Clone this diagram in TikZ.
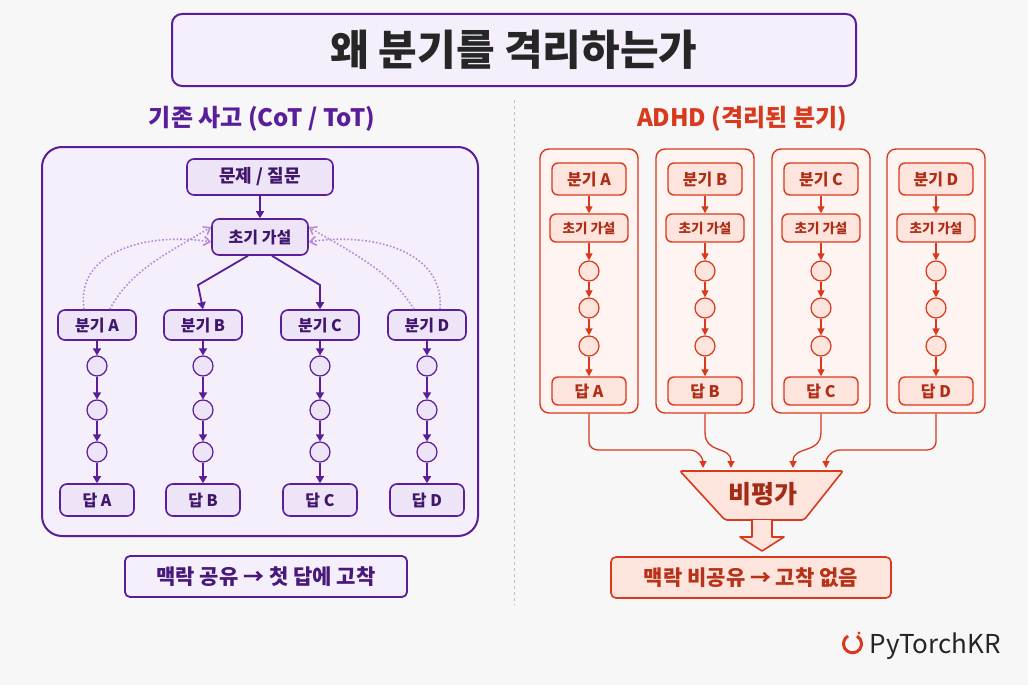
\documentclass[tikz,border=0pt]{standalone}
\usepackage{fontspec}
\setmainfont{Noto Sans CJK KR}
\usetikzlibrary{arrows.meta,calc}
\definecolor{pp}{HTML}{5B1E9A}
\definecolor{ppf}{HTML}{EEE4F8}
\definecolor{ppb}{HTML}{F4EFFA}
\definecolor{pl}{HTML}{B48AD8}
\definecolor{rd}{HTML}{D93A1E}
\definecolor{rdf}{HTML}{FDE4DC}
\definecolor{rdb}{HTML}{FEF4F1}
\definecolor{bg}{HTML}{F7F7F7}
\tikzset{
 pbox/.style={draw=pp,fill=ppf,line width=1.6pt,rounded corners=7pt,text=pp!70!black,font=\fontsize{16}{18}\selectfont\bfseries,inner sep=0pt},
 rbox/.style={draw=rd,fill=rdf,line width=1.4pt,rounded corners=6pt,text=rd!80!black,font=\fontsize{15}{17}\selectfont\bfseries,inner sep=0pt},
 pc/.style={circle,draw=pp,fill=ppf,line width=1.2pt,minimum size=20pt,inner sep=0pt},
 rc/.style={circle,draw=rd,fill=rdf,line width=1.2pt,minimum size=20pt,inner sep=0pt},
 parr/.style={draw=pp,line width=1.6pt,-{Triangle[length=7pt,width=8pt]}},
 rarr/.style={draw=rd,line width=1.3pt,-{Triangle[length=7pt,width=7pt]}},
 dotarr/.style={draw=pl,line width=1.6pt,dotted,-{Straight Barb[length=6pt,width=9pt]}},
}
\begin{document}
\begin{tikzpicture}[x=1pt,y=-1pt]
\fill[bg] (0,0) rectangle (1028,685);
\useasboundingbox (0,0) rectangle (1028,685);
% title
\node[draw=pp,fill=ppb,line width=2pt,rounded corners=10pt,minimum width=684pt,minimum height=72pt,font=\fontsize{42}{46}\selectfont\bfseries,text=black!85] (title) at (514,50) {왜 분기를 격리하는가};
\node[text=pp,font=\fontsize{24}{27}\selectfont\bfseries] (lh) at (262,119) {기존 사고 (CoT / ToT)};
\node[text=rd,font=\fontsize{24}{27}\selectfont\bfseries] (rh) at (742,119) {ADHD (격리된 분기)};
\draw[black!25,line width=1pt,dashed] (514,100) -- (514,605);
% left panel
\node[draw=pp,fill=ppb,line width=2pt,rounded corners=20pt,minimum width=436pt,minimum height=389pt] (lp) at (260,341.5) {};
\node[pbox,minimum width=146pt,minimum height=36pt,font=\fontsize{18}{20}\selectfont\bfseries] (q) at (260,177) {문제 / 질문};
\node[pbox,minimum width=96pt,minimum height=36pt] (h) at (260,237) {초기 가설};
\draw[parr] (q) -- (h);
\foreach \x/\l in {97/A,203/B,320/C,427/D}{
 \node[pbox,minimum width=78pt,minimum height=30pt] (b\l) at (\x,325) {분기 \l};
 \node[pc] (c1\l) at (\x,366) {};
 \node[pc] (c2\l) at (\x,410) {};
 \node[pc] (c3\l) at (\x,452) {};
 \node[pbox,minimum width=74pt,minimum height=32pt] (a\l) at (\x,500) {답 \l};
 \draw[parr] (b\l) -- (c1\l);
 \draw[parr] (c1\l) -- (c2\l);
 \draw[parr] (c2\l) -- (c3\l);
 \draw[parr] (c3\l) -- (a\l);
}
\draw[draw=pp,line width=1.8pt,-{Triangle[length=7pt,width=8pt]}] ([xshift=-12pt]h.south) -- (198,285) -- (bB.north);
\draw[draw=pp,line width=1.8pt,-{Triangle[length=7pt,width=8pt]}] ([xshift=12pt]h.south) -- (320,285) -- (bC.north);
\draw[dotarr] ([xshift=-13pt]bA.north) .. controls (75,250) and (150,232) .. ([yshift=-5pt]h.west);
\draw[dotarr] ([xshift=13pt]bA.north) .. controls (130,270) and (170,252) .. ([yshift=10pt]h.west);
\draw[dotarr] ([xshift=13pt]bD.north) .. controls (445,250) and (370,232) .. ([yshift=-5pt]h.east);
\draw[dotarr] ([xshift=-13pt]bD.north) .. controls (390,270) and (350,252) .. ([yshift=10pt]h.east);
\node[draw=pp,fill=ppb,line width=1.8pt,rounded corners=5pt,minimum width=282pt,minimum height=41pt,text=pp!80!black,font=\fontsize{21}{23}\selectfont\bfseries] (lb) at (266,576.5) {맥락 공유 → 첫 답에 고착};
% right panel
\foreach \x/\l in {589/A,705/B,821/C,936/D}{
 \node[draw=rd,fill=rdb,line width=1.4pt,rounded corners=9pt,minimum width=98pt,minimum height=264pt] (col\l) at (\x,281) {};
 \node[rbox,minimum width=74pt,minimum height=32pt,font=\fontsize{16}{18}\selectfont\bfseries] (rb\l) at (\x,179) {분기 \l};
 \node[rbox,minimum width=78pt,minimum height=28pt,font=\fontsize{13.5}{15}\selectfont\bfseries] (rh\l) at (\x,228) {초기 가설};
 \node[rc] (r1\l) at (\x,271) {};
 \node[rc] (r2\l) at (\x,308) {};
 \node[rc] (r3\l) at (\x,346) {};
 \node[rbox,minimum width=74pt,minimum height=28pt,font=\fontsize{16}{18}\selectfont\bfseries] (ra\l) at (\x,391) {답 \l};
 \draw[rarr] (rb\l) -- (rh\l);
 \draw[rarr] (rh\l) -- (r1\l);
 \draw[rarr] (r1\l) -- (r2\l);
 \draw[rarr] (r2\l) -- (r3\l);
 \draw[rarr] (r3\l) -- (ra\l);
}
% funnel
\draw[draw=rd,fill=rdf,line width=1.6pt,rounded corners=2pt] (680,471) -- (843,471) -- (804,520) -- (725,520) -- cycle;
\node[text=rd!75!black,font=\fontsize{25}{27}\selectfont\bfseries] (crit) at (763,494) {비평가};
\draw[draw=rd,fill=rdf,line width=1.6pt,line join=round] (752,520) -- (752,537) -- (740,537) -- (762,551) -- (784,537) -- (772,537) -- (772,520);
\coordinate (tA) at (703,468);
\coordinate (tB) at (731,468);
\coordinate (tC) at (793,468);
\coordinate (tD) at (826,468);
\draw[rarr] (colA.south) -- (589,442) to[out=-90,in=180] (598,450) -- (690,450) to[out=0,in=90] (tA);
\draw[rarr] (colB.south) -- (705,432) .. controls (705,455) and (731,445) .. (tB);
\draw[rarr] (colC.south) -- (821,432) .. controls (821,455) and (793,445) .. (tC);
\draw[rarr] (colD.south) -- (936,442) to[out=-90,in=0] (927,450) -- (840,450) to[out=180,in=90] (tD);
\node[draw=rd,fill=rdf,line width=1.6pt,rounded corners=5pt,minimum width=280pt,minimum height=41pt,text=rd!85!black,font=\fontsize{21}{23}\selectfont\bfseries] (rbx) at (751,577.5) {맥락 비공유 → 고착 없음};
% logo
\draw[rd,line width=3pt] (848,636) arc (120:420:9pt);
\fill[rd] (859,633) circle (1.6pt);
\node[anchor=west,font=\fontsize{26}{28}\selectfont,text=black!85] (logo) at (866,646) {PyTorchKR};
\end{tikzpicture}
\end{document}
